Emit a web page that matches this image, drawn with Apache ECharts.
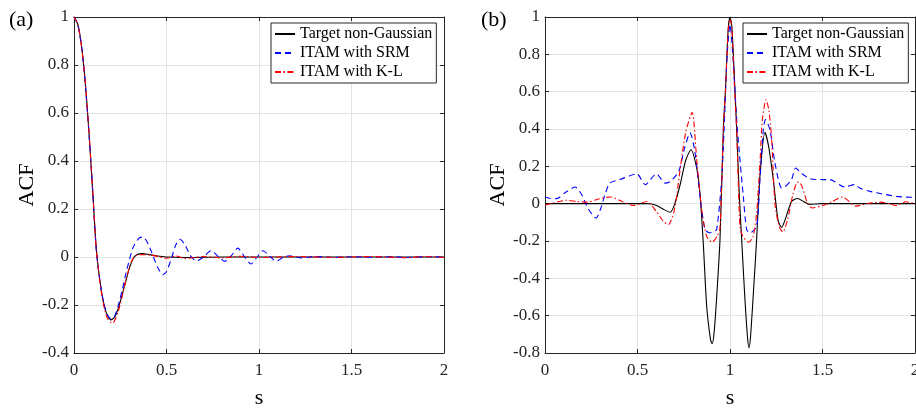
<!DOCTYPE html>
<html>
<head>
<meta charset="utf-8">
<script src="https://cdn.jsdelivr.net/npm/echarts@6/dist/echarts.min.js"></script>
<style>html,body{margin:0;padding:0;background:#fff}#c{width:916px;height:410px}</style>
</head>
<body>
<div id="c"></div>
<script>
// ---------- data ----------
const seriesNames = ['Target non-Gaussian', 'ITAM with SRM', 'ITAM with K-L'];
const panelLabels = ['(a)', '(b)'];
const xTicks = [0, 0.5, 1, 1.5, 2];
const yRangeA = [-0.4, 1];
const yRangeB = [-0.8, 1];

// Panel (a): [s, ACF]
const targetA = [[0,1],[0.02,0.97],[0.04,0.885],[0.06,0.735],[0.08,0.53],[0.1,0.29],[0.12,0.04],[0.14,-0.1],[0.16,-0.19],[0.18,-0.243],[0.2,-0.262],[0.22,-0.25],[0.24,-0.212],[0.26,-0.158],[0.28,-0.1],[0.3,-0.045],[0.32,-0.006],[0.34,0.009],[0.37,0.014],[0.4,0.011],[0.45,0.004],[0.5,0],[0.6,-0.002],[0.8,0],[1,0],[1.5,0],[2,0]];
const srmA = [[0,1],[0.02,0.97],[0.04,0.88],[0.06,0.73],[0.08,0.525],[0.1,0.285],[0.12,0.035],[0.14,-0.1],[0.16,-0.19],[0.18,-0.24],[0.2,-0.258],[0.22,-0.245],[0.24,-0.2],[0.26,-0.14],[0.28,-0.07],[0.3,-0.01],[0.32,0.04],[0.35,0.078],[0.372,0.083],[0.39,0.07],[0.42,0.02],[0.45,-0.04],[0.481,-0.074],[0.5,-0.06],[0.525,-0.01],[0.55,0.05],[0.573,0.074],[0.6,0.05],[0.63,0.005],[0.663,-0.016],[0.7,0.0],[0.741,0.026],[0.78,0.002],[0.813,-0.018],[0.85,0.005],[0.885,0.037],[0.92,0.003],[0.957,-0.029],[0.99,0.0],[1.021,0.026],[1.06,0.002],[1.093,-0.018],[1.13,-0.002],[1.165,0.005],[1.2,0.0],[1.229,-0.004],[1.3,0.002],[1.4,-0.002],[1.5,0.001],[1.6,-0.001],[1.7,0.001],[1.8,-0.002],[1.9,0.001],[2,0]];
const klA = [[0,1],[0.02,0.97],[0.04,0.88],[0.06,0.735],[0.08,0.53],[0.1,0.29],[0.12,0.035],[0.14,-0.105],[0.16,-0.2],[0.18,-0.255],[0.2,-0.273],[0.21,-0.275],[0.22,-0.265],[0.24,-0.225],[0.26,-0.165],[0.28,-0.1],[0.3,-0.04],[0.32,-0.005],[0.34,0.008],[0.37,0.01],[0.42,0.008],[0.5,-0.005],[0.55,0.004],[0.6,-0.006],[0.7,0.002],[0.8,-0.004],[0.9,0.003],[1.0,-0.002],[1.2,0.002],[1.4,-0.002],[1.6,0.002],[1.8,-0.003],[1.9,0.002],[2,-0.002]];

// Panel (b): [s, ACF]
const targetB = [[0,0],[0.3,0],[0.55,0],[0.6,-0.008],[0.64,-0.03],[0.676,-0.046],[0.7,-0.005],[0.73,0.1],[0.76,0.23],[0.789,0.289],[0.82,0.19],[0.838,0.05],[0.856,-0.22],[0.874,-0.55],[0.895,-0.73],[0.904,-0.75],[0.915,-0.68],[0.928,-0.5],[0.946,-0.19],[0.964,0.396],[0.975,0.6],[0.99,0.93],[1.0,1.0],[1.01,0.95],[1.025,0.65],[1.036,0.4],[1.05,0.05],[1.063,-0.19],[1.08,-0.5],[1.095,-0.72],[1.103,-0.772],[1.112,-0.7],[1.13,-0.42],[1.144,-0.19],[1.162,0.15],[1.189,0.382],[1.21,0.3],[1.234,0.129],[1.26,-0.09],[1.279,-0.127],[1.3,-0.08],[1.333,0.012],[1.365,0.028],[1.4,0.01],[1.43,-0.004],[1.5,0],[2,0]];
const srmB = [[0,0.036],[0.03,0.028],[0.063,0.027],[0.11,0.06],[0.163,0.089],[0.2,0.045],[0.235,-0.03],[0.276,-0.077],[0.3,-0.03],[0.325,0.05],[0.351,0.111],[0.405,0.129],[0.459,0.15],[0.497,0.16],[0.542,0.102],[0.602,0.16],[0.649,0.11],[0.678,0.12],[0.723,0.173],[0.755,0.3],[0.784,0.379],[0.81,0.28],[0.838,0.039],[0.865,-0.139],[0.892,-0.157],[0.91,-0.15],[0.928,-0.139],[0.955,0.129],[0.968,0.396],[0.985,0.8],[1.0,0.96],[1.015,0.8],[1.04,0.396],[1.072,0.039],[1.09,-0.139],[1.108,-0.157],[1.144,-0.12],[1.162,0.129],[1.18,0.396],[1.192,0.45],[1.216,0.396],[1.243,0.218],[1.279,0.084],[1.297,0.09],[1.333,0.13],[1.355,0.191],[1.39,0.16],[1.432,0.134],[1.504,0.129],[1.54,0.129],[1.62,0.089],[1.675,0.102],[1.7,0.084],[1.757,0.066],[1.829,0.051],[1.9,0.039],[1.973,0.034],[2,0.033]];
const klB = [[0,-0.008],[0.05,0.005],[0.117,0.018],[0.17,0.012],[0.226,0.008],[0.29,0.025],[0.352,0.036],[0.42,0.01],[0.479,-0.01],[0.551,0.012],[0.6,-0.04],[0.64,-0.095],[0.667,-0.112],[0.7,-0.03],[0.73,0.18],[0.76,0.38],[0.795,0.489],[0.82,0.236],[0.847,-0.032],[0.874,-0.175],[0.903,-0.207],[0.93,-0.175],[0.946,-0.13],[0.964,0.4],[0.975,0.6],[0.99,0.93],[1.0,0.99],[1.01,0.94],[1.025,0.6],[1.036,0.4],[1.054,-0.13],[1.07,-0.175],[1.1,-0.207],[1.125,-0.175],[1.144,-0.05],[1.162,0.22],[1.175,0.45],[1.195,0.557],[1.21,0.5],[1.225,0.35],[1.243,0.0],[1.265,-0.12],[1.285,-0.152],[1.31,-0.09],[1.34,0.05],[1.36,0.11],[1.373,0.116],[1.39,0.09],[1.42,0.0],[1.445,-0.023],[1.5,-0.01],[1.55,0.01],[1.608,0.036],[1.68,-0.013],[1.75,0.002],[1.816,0.008],[1.86,0.0],[1.897,-0.01],[1.951,0.01],[2,0.0]];

// ---------- chart ----------
const FONT = 'Liberation Serif';
const AX = '#262626';
const GRIDC = '#e3e3e3';
const grids = [
  {left: 74, top: 17, width: 370, height: 336, outerBoundsMode: 'none', containLabel: false},
  {left: 545, top: 17, width: 370, height: 336, outerBoundsMode: 'none', containLabel: false}
];
const yRanges = [yRangeA, yRangeB];

const xAxes = [], yAxes = [];
grids.forEach((g, i) => {
  xAxes.push({
    type: 'value', gridIndex: i, min: xTicks[0], max: xTicks[xTicks.length - 1], interval: 0.5,
    position: 'bottom',
    name: 's', nameLocation: 'middle', nameGap: 34,
    nameTextStyle: {fontFamily: FONT, fontSize: 22, color: '#000'},
    axisLine: {show: true, onZero: false, lineStyle: {color: AX, width: 1}},
    axisTick: {show: true, inside: true, length: 4, lineStyle: {color: AX}},
    axisLabel: {fontFamily: FONT, fontSize: 17, color: AX, margin: 9},
    splitLine: {show: true, lineStyle: {color: GRIDC, width: 1}}
  });
  xAxes.push({
    type: 'value', gridIndex: i, min: xTicks[0], max: xTicks[xTicks.length - 1], interval: 0.5,
    position: 'top',
    axisLine: {show: true, onZero: false, lineStyle: {color: AX, width: 1}},
    axisTick: {show: true, inside: true, length: 4, lineStyle: {color: AX}},
    axisLabel: {show: false}, splitLine: {show: false}
  });
  yAxes.push({
    type: 'value', gridIndex: i, min: yRanges[i][0], max: yRanges[i][1], interval: 0.2,
    position: 'left',
    name: 'ACF', nameLocation: 'middle', nameGap: 35, nameRotate: 90,
    nameTextStyle: {fontFamily: FONT, fontSize: 22, color: '#000'},
    axisLine: {show: true, onZero: false, lineStyle: {color: AX, width: 1}},
    axisTick: {show: true, inside: true, length: 4, lineStyle: {color: AX}},
    axisLabel: {fontFamily: FONT, fontSize: 17, color: AX, margin: 5},
    splitLine: {show: true, lineStyle: {color: GRIDC, width: 1}}
  });
  yAxes.push({
    type: 'value', gridIndex: i, min: yRanges[i][0], max: yRanges[i][1], interval: 0.2,
    position: 'right',
    axisLine: {show: true, onZero: false, lineStyle: {color: AX, width: 1}},
    axisTick: {show: true, inside: true, length: 4, lineStyle: {color: AX}},
    axisLabel: {show: false}, splitLine: {show: false}
  });
});

const styles = [
  {color: '#000000', type: 'solid', width: 1.1},
  {color: '#0000ff', type: [6, 4], width: 1.1},
  {color: '#ff0000', type: [6, 2.5, 1.5, 2.5], width: 1.1}
];
const panelData = [[targetA, srmA, klA], [targetB, srmB, klB]];
const series = [];
panelData.forEach((arrs, p) => {
  arrs.forEach((d, k) => {
    series.push({
      type: 'line', name: seriesNames[k], data: d,
      xAxisIndex: p * 2, yAxisIndex: p * 2,
      symbol: 'none', showSymbol: false, smooth: 0.25,
      lineStyle: styles[k], itemStyle: {color: styles[k].color},
      z: 3 + k
    });
  });
});

const legendBase = {
  orient: 'vertical', top: 23, data: seriesNames,
  backgroundColor: '#ffffff', borderColor: AX, borderWidth: 1,
  padding: [2, 4, 2, 3], itemWidth: 20, itemHeight: 12, itemGap: 1,
  itemStyle: {opacity: 0},
  textStyle: {fontFamily: FONT, fontSize: 16, color: '#000', lineHeight: 18},
  selectedMode: false
};

const chart = echarts.init(document.getElementById('c'), null, {renderer: 'canvas'});
chart.setOption({
  animation: false,
  backgroundColor: '#ffffff',
  title: [
    {text: panelLabels[0], left: 4, top: 4, textStyle: {fontFamily: FONT, fontSize: 22, fontWeight: 'normal', color: '#000'}},
    {text: panelLabels[1], left: 476, top: 4, textStyle: {fontFamily: FONT, fontSize: 22, fontWeight: 'normal', color: '#000'}}
  ],
  grid: grids,
  xAxis: xAxes,
  yAxis: yAxes,
  legend: [Object.assign({left: 271}, legendBase), Object.assign({left: 743}, legendBase)],
  series: series
});
</script>
</body>
</html>
